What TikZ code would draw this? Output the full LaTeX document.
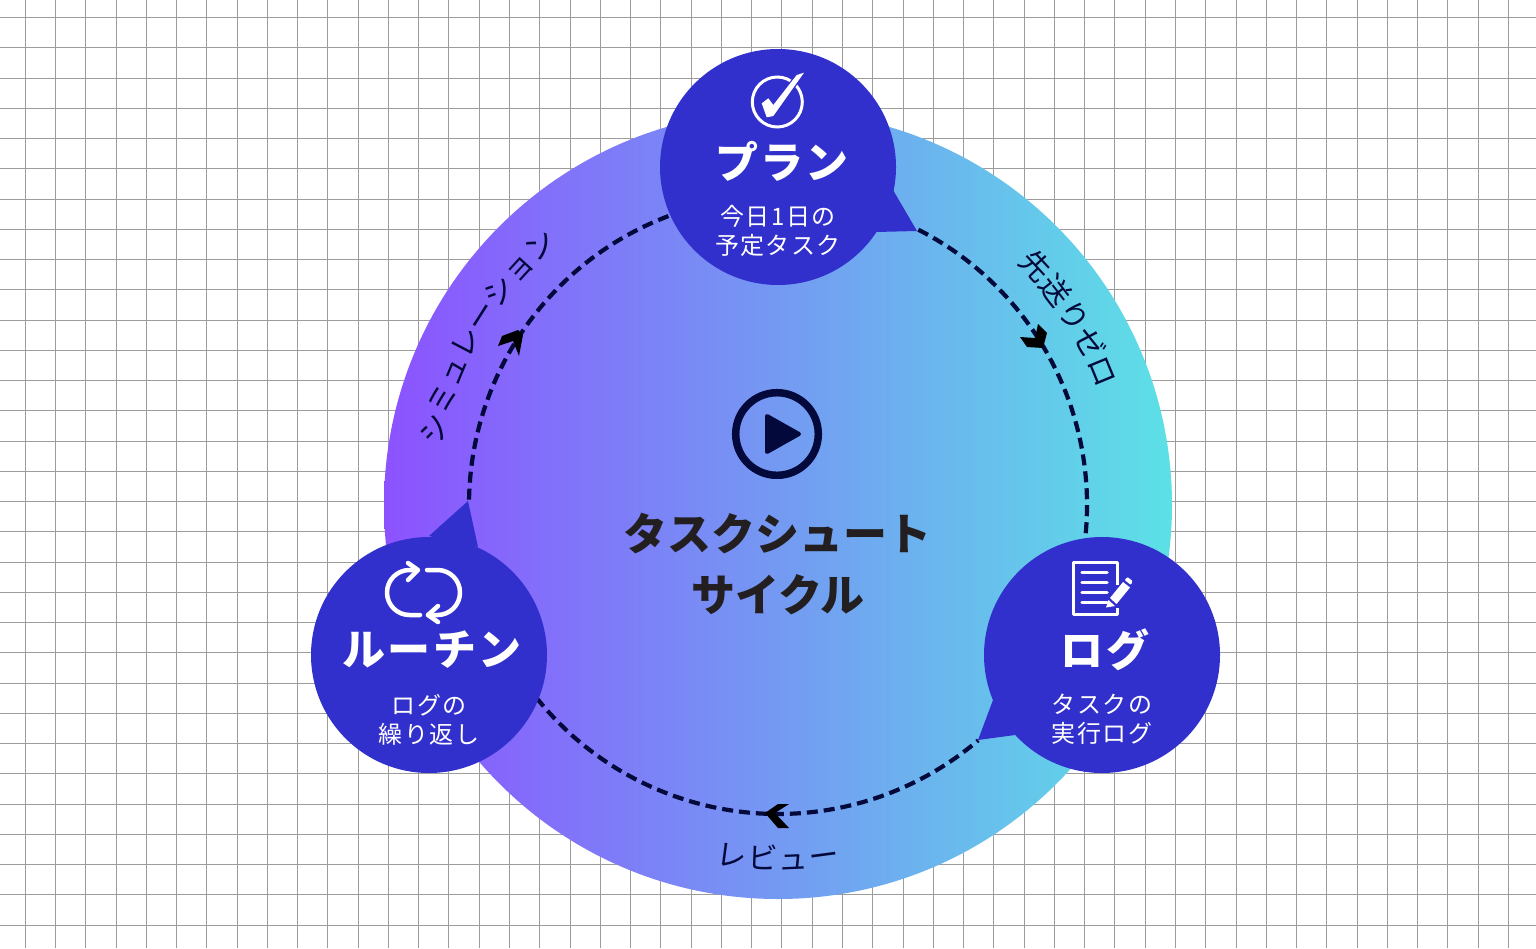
\documentclass[tikz,border=0pt]{standalone}
\usepackage{fontspec}
\setmainfont{Noto Sans CJK JP}
\usetikzlibrary{calc}
\definecolor{gridc}{HTML}{9C9C9C}
\definecolor{bubblec}{HTML}{3230CD}
\definecolor{navy}{HTML}{03093A}
\definecolor{leftc}{HTML}{8C52FF}
\definecolor{rightc}{HTML}{5CE1E6}
\definecolor{titlec}{HTML}{231F20}
\tikzset{
  bubble/.style={circle,fill=bubblec,minimum size=236pt,inner sep=0pt},
  tailfill/.style={fill=bubblec},
  flow/.style={navy,line width=4.2pt,dash pattern=on 11pt off 6pt},
  chev/.style={fill=black},
  arcchar/.style={inner sep=0pt,text=navy,font=\fontsize{30}{30}\selectfont,text height=26pt,text depth=4pt,anchor=center},
  headtext/.style={inner sep=0pt,text=white,font=\fontsize{43}{43}\bfseries\selectfont\addfontfeature{LetterSpace=5}},
  subtext/.style={inner sep=0pt,text=white,align=center,font=\fontsize{24}{29}\selectfont\addfontfeature{LetterSpace=6}},
  titletext/.style={inner sep=0pt,text=titlec,font=\fontsize{44}{44}\bfseries\selectfont},
  iconline/.style={white,line width=3pt,line cap=round,line join=round},
}
\begin{document}
\begin{tikzpicture}[x=1pt,y=-1pt]
\useasboundingbox (0,0) rectangle (1536,948);
\fill[white] (0,0) rectangle (1536,948);
% grid
\foreach \i in {0,...,49} \draw[gridc,line width=1pt] ({25.2+\i*30.27},0) -- ({25.2+\i*30.27},948);
\foreach \i in {0,...,30} \draw[gridc,line width=1pt] (0,{17.5+\i*30.25}) -- (1536,{17.5+\i*30.25});
% disc
\coordinate (c) at (778,505);
\shade[left color=leftc,right color=rightc] (c) circle[radius=394];
% connectors
\coordinate (arcA) at ($(c)+(-63:309)$);
\coordinate (arcB) at ($(c)+(49.6:309)$);
\coordinate (arcC) at ($(c)+(-179:309)$);
\draw[flow] (arcA) arc[start angle=-63,end angle=8,radius=309];
\draw[flow,dash phase=9pt] (arcB) arc[start angle=49.6,end angle=142,radius=309];
\draw[flow] (arcC) arc[start angle=-179,end angle=-108,radius=309];
% chevrons
\fill[chev] (1020,337)--(1035,338)--(1038,324)--(1047,333)--(1043,348)--(1027,347)--cycle;
\fill[chev] (765,813)--(778,804)--(789,804)--(775,813)--(789,828)--(778,828)--cycle;
\fill[chev] (498,346)--(502,336)--(518,330)--(523,335)--(519,356)--(513,341)--cycle;
% bubbles
\node[bubble] (plan) at (778,167) {};
\node[bubble] (routine) at (429,655) {};
\node[bubble] (log) at (1102,655) {};
\fill[tailfill] (893,190)--(917,231)--(876,232)--cycle;
\fill[tailfill] (468,501)--(429,536)--(478,547)--cycle;
\fill[tailfill] (978,740)--(993,700)--(1015,735)--cycle;
% arc labels
\foreach \ch/\p/\i in {シ/-167.5/1,ミ/-162.5/2,ュ/-157.5/3,レ/-152.5/4,ー/-147.5/5,シ/-142.5/6,ョ/-137.5/7,ン/-132.5/8}
  \node[arcchar,rotate={-1*\p-90}] (simu\i) at ($(c)+(\p:352)$) {\ch};
\foreach \ch/\p/\i in {先/-42.8/1,送/-37.7/2,り/-32.6/3,ゼ/-27.5/4,ロ/-22.4/5}
  \node[arcchar,rotate={-1*\p-90}] (zero\i) at ($(c)+(\p:351)$) {\ch};
\foreach \ch/\p/\i in {レ/97.5/1,ビ/92.5/2,ュ/87.5/3,ー/82.5/4}
  \node[arcchar,rotate={90-\p}] (rev\i) at ($(c)+(\p:354)$) {\ch};
% texts
\node[headtext] (planT) at (782,161) {プラン};
\node[subtext] (planS) at (778,231) {今日1日の\\予定タスク};
\node[headtext] (routineT) at (432,650) {ルーチン};
\node[subtext] (routineS) at (429,720) {ログの\\繰り返し};
\node[headtext] (logT) at (1105,650) {ログ};
\node[subtext] (logS) at (1102,719.5) {タスクの\\実行ログ};
\node[titletext] (t1) at (777,534) {タスクシュート};
\node[titletext] (t2) at (778,595) {サイクル};
% play icon
\begin{scope}
\clip (720,380) rectangle (835,478.7);
\draw[navy,line width=7.5pt] (777,434) circle[radius=41.3];
\end{scope}
\fill[navy,draw=navy,line width=4pt,line join=round] (767,416)--(799,434)--(767,452)--cycle;
% check icon
\draw[white,line width=3pt] (777.3,102) circle[radius=25];
\filldraw[white,draw=bubblec,line width=2.5pt,line join=round] (761.7,103.3)--(768.3,98.3)--(773.3,105)--(796.7,75)--(804,72.7)--(773.3,116)--(766.7,117.3)--cycle;
\fill[white,line join=round] (761.7,103.3)--(768.3,98.3)--(773.3,105)--(796.7,75)--(804,72.7)--(773.3,116)--(766.7,117.3)--cycle;
% loop icon
\draw[iconline,line width=4.5pt] (417,570)--(409.5,570) arc[start angle=-90,end angle=-270,radius=22.5]--(420,615);
\draw[iconline,line width=4.5pt] (427,570)--(437.5,570) arc[start angle=-90,end angle=90,radius=22.5]--(428,615);
\draw[iconline,line width=4.5pt] (408,563)--(418,570)--(408,580);
\draw[iconline,line width=4.5pt] (438,606)--(428,615)--(438,622);
% document icon
\draw[iconline,line join=round,line cap=butt] (1117,585)--(1117,562)--(1073,562)--(1073,614.5)--(1117,614.5)--(1117,608);
\foreach \yy in {572.7,582.7,592.7,602.7} \draw[iconline,line width=3.5pt] (1082,\yy)--(1107,\yy);
\fill[white] (1106,607.5)--(1108.5,600)--(1115,606)--cycle;
\fill[white] (1110,598)--(1123,582)--(1130,587.5)--(1116.5,604)--cycle;
\fill[white,rounded corners=1pt] (1124.5,580)--(1127.5,577)--(1132.5,581)--(1131,585)--cycle;
\end{tikzpicture}
\end{document}
